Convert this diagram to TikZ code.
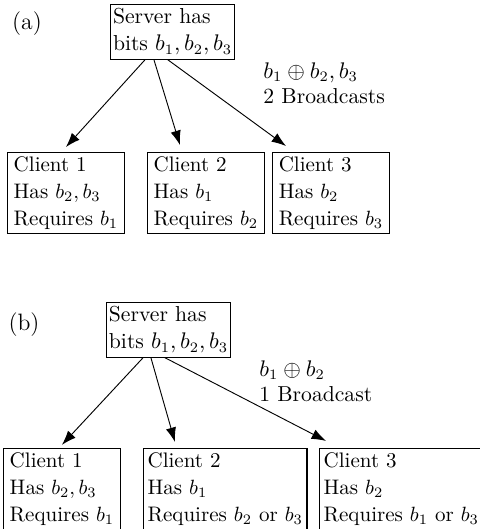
\documentclass[tikz,border=0pt]{standalone}
\usepackage{tikz}
\usetikzlibrary{
        positioning,
        arrows.meta
    }

\begin{document}
\begin{tikzpicture}
[box/.style={draw=black, line width=0.5pt, rectangle, align=left, anchor=north west, inner xsep=2pt, inner ysep=2pt, font=\fontsize{10.2}{13}\selectfont},
server/.style={box, inner xsep=1.2pt, minimum height=25.2pt, font=\fontsize{10.5}{13}\selectfont},
client/.style={box, minimum height=39.3pt, minimum width=56.7pt},
caption/.style={anchor=north west, align=left, inner sep=1pt, font=\fontsize{10.5}{12}\selectfont},
panel/.style={font=\fontsize{11.5}{14}\selectfont},
arrow/.style={line width=0.45pt, -{Latex[length=7pt,width=5pt]}},]

    \useasboundingbox (0,0) rectangle (8.18,-9.02);

    % (a)
    \node (labelA) [panel] at (0.46, -0.41) {(a)};
    \node (serverA) [server] at (1.876, -0.068) {Server has\\bits $b_1, b_2, b_3$};
    \node (clientA1) [client] at (0.119, -2.592) {Client 1\\Has $b_2, b_3$\\Requires $b_1$};
    \node (clientA2) [client] at (2.506, -2.592) {Client 2\\Has $b_1$\\Requires $b_2$};
    \node (clientA3) [client] at (4.638, -2.592) {Client 3\\Has $b_2$\\Requires $b_3$};
    \node (castA) [caption] at (4.45, -1.03) {$b_1 \oplus b_2, b_3$\\2 Broadcasts};

    \draw[arrow] ([xshift=17pt]serverA.south west) -- ([yshift=2.4pt]clientA1.north);
    \draw[arrow] ([xshift=21.3pt]serverA.south west) -- ([xshift=16pt, yshift=3.4pt]clientA2.north west);
    \draw[arrow] ([xshift=28pt]serverA.south west) -- ([xshift=6.8pt, yshift=2.9pt]clientA3.north west);

    % (b)
    \node (labelB) [panel] at (0.41, -5.54) {(b)};
    \node (serverB) [server] at (1.807, -5.149) {Server has\\bits $b_1, b_2, b_3$};
    \node (clientB1) [client] at (0.051, -7.638) {Client 1\\Has $b_2, b_3$\\Requires $b_1$};
    \node (clientB2) [client] at (2.438, -7.638) {Client 2\\Has $b_1$\\Requires $b_2$ or $b_3$};
    \node (clientB3) [client] at (5.44, -7.638) {Client 3\\Has $b_2$\\Requires $b_1$ or $b_3$};
    \node (castB) [caption] at (4.38, -6.11) {$b_1 \oplus b_2$\\1 Broadcast};

    \draw[arrow] ([xshift=18pt]serverB.south west) -- ([xshift=28.6pt, yshift=1.5pt]clientB1.north west);
    \draw[arrow] ([xshift=21.8pt]serverB.south west) -- ([xshift=15.5pt, yshift=2.9pt]clientB2.north west);
    \draw[arrow] ([xshift=28.6pt]serverB.south west) -- ([xshift=3.4pt, yshift=3.4pt]clientB3.north west);
\end{tikzpicture}
\end{document}
